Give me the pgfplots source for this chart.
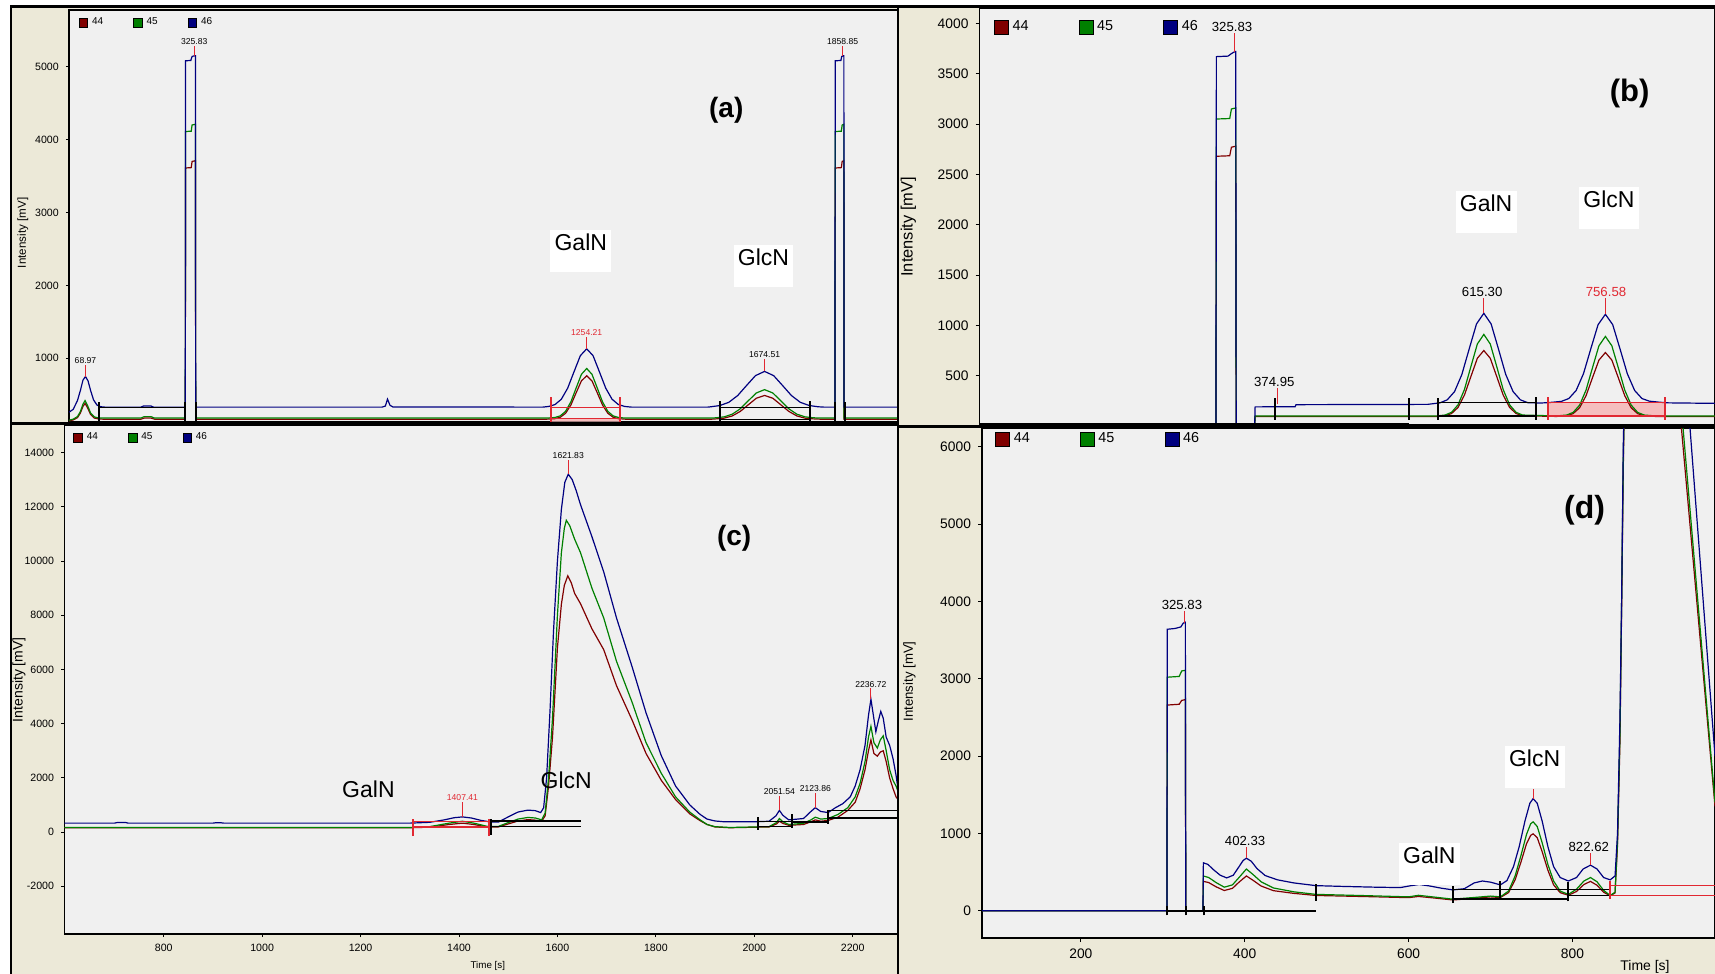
\documentclass[border=0pt]{standalone}
\usepackage{pgfplots}
\pgfplotsset{compat=1.18}
\usepackage{fontspec}
\setmainfont{Liberation Sans}
\definecolor{beige}{RGB}{236,233,216}
\definecolor{plotbg}{RGB}{240,240,240}
\definecolor{c44}{RGB}{128,0,0}
\definecolor{c45}{RGB}{0,128,0}
\definecolor{c46}{RGB}{0,0,128}
\definecolor{intred}{RGB}{225,40,50}
\definecolor{intfill}{RGB}{245,190,190}
\newcommand{\fs}[1]{\fontsize{#1}{#1}\selectfont}

\tikzset{
  pk/.style={font=\fs{4.3}, inner sep=0.5pt, anchor=south},
  pkb/.style={font=\fs{6.6}, inner sep=0.5pt, anchor=south},
  nm/.style={font=\fs{11.5}, inner sep=0pt},
  nmbox/.style={font=\fs{11.5}, fill=white, inner xsep=2.2pt, inner ysep=1.8pt, text depth=9pt, anchor=north},
  lab/.style={font=\bfseries\fs{14}, inner sep=0pt},
}
\pgfplotsset{
  chrom/.style={
    scale only axis, clip=true,
    axis background/.style={fill=plotbg},
    axis line style={black, line width=0.7pt},
    xtick pos=left, ytick pos=left,
    tick align=outside,
    every tick/.style={black, line width=0.4pt},
    /pgf/number format/assume math mode=true,
    /pgf/number format/set thousands separator={},
    scaled ticks=false,
    legend columns=3,
    legend cell align=left,
    every axis plot/.append style={line width=0.6pt},
  },
  smallp/.style={
    major tick length=1.6pt,
    tick label style={font=\fs{5.3}},
    legend style={draw=none, fill=none, inner sep=0pt, outer sep=0pt, anchor=west, font=\fs{5},
      /tikz/every even column/.append style={column sep=13pt}},
    legend image code/.code={\filldraw[##1, draw=black, line width=0.3pt] (0pt,-2.4pt) rectangle (4.4pt,2.4pt);},
    ylabel style={font=\fs{5.8}},
    xlabel style={font=\fs{4.9}},
  },
  bigp/.style={
    major tick length=2pt,
    tick label style={font=\fs{6.9}},
    legend style={draw=none, fill=none, inner sep=0pt, outer sep=0pt, anchor=west, font=\fs{7.2},
      /tikz/every even column/.append style={column sep=23pt}},
    legend image code/.code={\filldraw[##1, draw=black, line width=0.3pt] (0pt,-3.4pt) rectangle (7pt,3.4pt);},
    xlabel style={font=\fs{7}},
  },
  intk/.style={black, line width=1pt, forget plot},
  intl/.style={black, line width=0.6pt, forget plot},
  redk/.style={intred, line width=1pt, forget plot},
  redl/.style={intred, line width=0.6pt, forget plot},
  apex/.style={intred, line width=0.5pt, forget plot},
}

\begin{document}
\begin{tikzpicture}
\begin{scope}[x=0.5pt,y=-0.5pt]
\fill[white] (0,0) rectangle (1715,974);
\fill[beige] (11,7) rectangle (1715,974);
\end{scope}

% ---------------- (a)
\begin{axis}[chrom, smallp, at={(34.5pt,-211pt)}, anchor=south west,
  width=414.5pt, height=206pt, xmin=30, xmax=1990, ymin=126, ymax=5777,
  xtick=\empty, ytick={1000,2000,3000,4000,5000},
  ylabel={Intensity [mV]}, ylabel style={at={(axis description cs:-0.0555,0.459)}, anchor=center},
  legend style={at={(axis description cs:0.0116,0.969)}}]
\addplot[fill=intfill, draw=none, forget plot] coordinates {(1170,130)(1333,130)(1333,172)(1170,172)(1170,130)};
\addplot[c44] coordinates {(30,140)(40,155)(50,185)(57,250)(63,340)(68,380)(74,320)(81,230)(90,180)(100,168)(110,165)(200,165)(208,180)(224,180)(232,165)(305,165)(305.5,3610)(319,3615)(321,3700)(329,3710)(329.5,165)(1160,165)(1179,172)(1191.5,191)(1204,245)(1216.5,358)(1229,526)(1241.5,690)(1254,760)(1266.5,690)(1279,526)(1291.5,358)(1304,245)(1316.5,191)(1329,172)(1345,165)(1550,165)(1560,169)(1579,179)(1598,209)(1617,271)(1636,362)(1655,452)(1674.5,490)(1694,452)(1713,362)(1732,271)(1751,209)(1770,179)(1789,169)(1805,165)(1841,165)(1841.5,3610)(1856,3615)(1858,3700)(1862,3710)(1862.5,165)(1990,165)};
\addplot[c45] coordinates {(30,150)(40,165)(50,200)(57,270)(63,370)(68,420)(74,350)(81,250)(90,195)(100,182)(110,180)(200,180)(208,200)(224,200)(232,180)(305,180)(305.5,4110)(319,4115)(321,4200)(329,4210)(329.5,180)(1160,180)(1179,188)(1191.5,210)(1204,272)(1216.5,401)(1229,592)(1241.5,780)(1254,860)(1266.5,780)(1279,592)(1291.5,401)(1304,272)(1316.5,210)(1329,188)(1345,180)(1550,180)(1560,184)(1579,197)(1598,233)(1617,307)(1636,417)(1655,524)(1674.5,570)(1694,524)(1713,417)(1732,307)(1751,233)(1770,197)(1789,184)(1805,180)(1841,180)(1841.5,4110)(1856,4115)(1858,4200)(1862,4210)(1862.5,180)(1990,180)};
\addplot[c46] coordinates {(30,260)(40,300)(50,420)(57,560)(63,700)(69,750)(75,690)(81,560)(88,430)(96,360)(105,335)(115,330)(200,330)(206,345)(224,345)(230,330)(305,330)(305.5,5080)(318,5085)(321,5140)(327,5150)(329,5150)(329.5,330)(770,330)(778,345)(783,440)(789,355)(796,332)(1150,330)(1164,339)(1179,365)(1194,438)(1209,590)(1224,815)(1239,1036)(1254,1130)(1269,1036)(1284,815)(1299,590)(1314,438)(1329,365)(1344,339)(1360,330)(1540,330)(1548,335)(1569,352)(1590,396)(1611,489)(1632,627)(1653,762)(1674.5,820)(1696,762)(1717,627)(1738,489)(1759,396)(1780,352)(1801,335)(1815,330)(1841,330)(1841.5,5080)(1855,5085)(1857,5140)(1861,5150)(1862,5150)(1862.5,330)(1990,330)};
\legend{44,45,46}
\addplot[redk] coordinates {(1170,126)(1170,470)};
\addplot[redk] coordinates {(1333,126)(1333,470)};
\addplot[redl] coordinates {(1170,330)(1333,330)};
\addplot[redl] coordinates {(1170,172)(1333,172)};
\addplot[intl] coordinates {(100,330)(305,330)};
\addplot[intl] coordinates {(1570,330)(1781,330)};
\addplot[intl] coordinates {(1570,155)(1781,155)};
\addplot[intk] coordinates {(100,140)(100,400)};
\addplot[intk] coordinates {(305,130)(305,400)};
\addplot[intk] coordinates {(330,130)(330,400)};
\addplot[intk] coordinates {(1570,130)(1570,420)};
\addplot[intk] coordinates {(1781,130)(1781,420)};
\addplot[intk] coordinates {(1842,130)(1842,400)};
\addplot[intk] coordinates {(1865,130)(1865,400)};
\addplot[apex] coordinates {(69,750)(69,908)};
\addplot[apex] coordinates {(326,5150)(326,5288)};
\addplot[apex] coordinates {(1254,1130)(1254,1288)};
\addplot[apex] coordinates {(1674.5,820)(1674.5,986)};
\addplot[apex] coordinates {(1859,5150)(1859,5288)};
\node[pk] at (axis cs:69,908) {68.97};
\node[pk] at (axis cs:326,5288) {325.83};
\node[pk, text=intred] at (axis cs:1254,1288) {1254.21};
\node[pk] at (axis cs:1674.5,986) {1674.51};
\node[pk] at (axis cs:1859,5288) {1858.85};
\node[lab] at (axis cs:1584,4405) {(a)};
\node[nmbox] at (axis cs:1240,2759) {GalN};
\node[nmbox] at (axis cs:1672,2553) {GlcN};
\end{axis}

% ---------------- (b)
\begin{axis}[chrom, bigp, at={(489.75pt,-212.5pt)}, anchor=south west,
  width=367.75pt, height=208.5pt, xmin=29.2, xmax=884, ymin=10, ymax=4153,
  xtick=\empty, ytick={500,1000,...,4000},
  ylabel={Intensity [mV]}, ylabel style={font=\fs{8.2}, at={(axis description cs:-0.0967,0.475)}, anchor=center},
  legend style={at={(axis description cs:0.0197,0.954)}}]
\addplot[fill=intfill, draw=none, forget plot] coordinates {(690,100)(826,100)(826,235)(690,235)(690,100)};
\addplot[c44] coordinates {(29,0)(304,0)(304.5,2680)(320,2685)(322,2770)(327,2780)(327.5,0)(349,0)(349.5,95)(560,95)(570.3,102)(577.8,124)(585.3,184)(592.8,308)(600.3,492)(607.8,673)(615.3,750)(622.8,673)(630.3,492)(637.8,308)(645.3,184)(652.8,124)(660.3,102)(700,95)(711.6,102)(719.1,123)(726.6,181)(734.1,301)(741.6,480)(749.1,655)(756.6,730)(764.1,655)(771.6,480)(779.1,301)(786.6,181)(794.1,123)(801.6,102)(815,95)(884,95)};
\addplot[c45] coordinates {(29,0)(304,0)(304.5,3050)(320,3055)(322,3150)(327,3160)(327.5,0)(349,0)(349.5,100)(560,100)(570.3,109)(577.8,136)(585.3,210)(592.8,363)(600.3,591)(607.8,815)(615.3,910)(622.8,815)(630.3,591)(637.8,363)(645.3,210)(652.8,136)(660.3,109)(700,100)(711.6,109)(719.1,135)(726.6,207)(734.1,357)(741.6,579)(749.1,797)(756.6,890)(764.1,797)(771.6,579)(779.1,357)(786.6,207)(794.1,135)(801.6,109)(815,100)(884,100)};
\addplot[c46] coordinates {(29,0)(304,0)(304.5,3670)(318,3675)(322,3700)(326,3720)(327,3720)(327.5,0)(349,0)(349.5,190)(396,192)(397,212)(550,215)(564.3,230)(572.8,260)(581.3,342)(589.8,512)(598.3,766)(606.8,1014)(615.3,1120)(623.8,1014)(632.3,766)(640.8,512)(649.3,342)(657.8,260)(666.3,232)(680,228)(690,232)(705.6,245)(714.1,273)(722.6,353)(731.1,519)(739.6,766)(748.1,1007)(756.6,1110)(765.1,1007)(773.6,766)(782.1,519)(790.6,353)(799.1,273)(807.6,247)(820,236)(830,230)(884,225)};
\legend{44,45,46}
\addplot[black, line width=1.5pt, forget plot] coordinates {(29,14)(528,14)};
\addplot[intk] coordinates {(372.7,60)(372.7,276)};
\addplot[intk] coordinates {(528,61)(528,276)};
\addplot[intk] coordinates {(562.5,61)(562.5,276)};
\addplot[intk] coordinates {(676.5,61)(676.5,290)};
\addplot[intl] coordinates {(562.5,232)(676.5,232)};
\addplot[intl] coordinates {(562.5,100)(676.5,100)};
\addplot[redk] coordinates {(690,60)(690,290)};
\addplot[redk] coordinates {(826,60)(826,290)};
\addplot[redl] coordinates {(690,235)(826,235)};
\addplot[redl] coordinates {(690,100)(826,100)};
\addplot[apex] coordinates {(326,3720)(326,3905)};
\addplot[apex] coordinates {(375,215)(375,375)};
\addplot[apex] coordinates {(615.3,1120)(615.3,1268)};
\addplot[apex] coordinates {(756.6,1110)(756.6,1268)};
\node[pkb] at (axis cs:322.7,3905) {325.83};
\node[pkb] at (axis cs:371.8,375) {374.95};
\node[pkb] at (axis cs:613.4,1268) {615.30};
\node[pkb, text=intred] at (axis cs:757.3,1268) {756.58};
\node[lab, font=\bfseries\fs{15.5}] at (axis cs:784.8,3300) {(b)};
\node[nmbox] at (axis cs:618,2339) {GalN};
\node[nmbox] at (axis cs:760.7,2374) {GlcN};
\end{axis}

% ---------------- (c)
\begin{axis}[chrom, smallp, at={(32.15pt,-467pt)}, anchor=south west,
  width=416.85pt, height=254.35pt, xmin=598, xmax=2292, ymin=-3759, ymax=15003,
  xtick={800,1000,...,2200}, ytick={-2000,0,2000,...,14000},
  ylabel={Intensity [mV]}, ylabel style={font=\fs{7}, at={(axis description cs:-0.0543,0.5)}, anchor=center},
  xlabel={Time [s]}, xlabel style={at={(axis description cs:0.508,-0.063)}, anchor=center},
  legend style={at={(axis description cs:0.011,0.9756)}}]
\addplot[c44] coordinates {(598,160)(1300,160)(1340,180)(1380,280)(1407,330)(1430,280)(1460,180)(1480,190)(1500,300)(1520,410)(1540,460)(1555,440)(1568,400)(1575,600)(1582,1700)(1590,3500)(1600,6800)(1608,8400)(1614,9100)(1621,9450)(1628,9200)(1635,8800)(1647,8420)(1670,7500)(1694,6730)(1720,5400)(1752,4120)(1780,2900)(1811,1910)(1840,1200)(1869,670)(1890,420)(1904,280)(1920,190)(1950,160)(2030,190)(2045,300)(2051,400)(2058,320)(2070,250)(2100,280)(2115,380)(2124,450)(2135,400)(2150,430)(2170,550)(2190,800)(2205,1100)(2215,1600)(2225,2300)(2232,3000)(2237,3400)(2243,2900)(2250,2800)(2256,2950)(2262,3000)(2268,2600)(2275,2000)(2282,1600)(2288,1300)(2292,1200)};
\addplot[c45] coordinates {(598,170)(1300,170)(1340,200)(1380,330)(1407,400)(1430,330)(1460,200)(1480,210)(1500,350)(1520,480)(1540,540)(1555,520)(1568,450)(1575,700)(1582,2000)(1590,4200)(1600,8000)(1608,10300)(1614,11200)(1618,11500)(1625,11300)(1635,10800)(1647,10300)(1670,9000)(1694,7900)(1720,6300)(1752,4775)(1780,3300)(1811,2170)(1840,1300)(1869,735)(1890,450)(1904,280)(1920,200)(1950,170)(2030,200)(2045,350)(2051,500)(2058,380)(2070,280)(2100,320)(2115,450)(2124,550)(2135,480)(2150,500)(2170,650)(2190,900)(2205,1300)(2215,1800)(2225,2600)(2232,3500)(2237,3900)(2243,3300)(2250,3100)(2256,3400)(2262,3550)(2268,3000)(2275,2300)(2282,1900)(2288,1700)(2292,1500)};
\addplot[c46] coordinates {(598,330)(700,330)(706,355)(722,355)(728,330)(900,330)(906,345)(916,345)(922,330)(1300,330)(1340,360)(1370,450)(1390,530)(1407,560)(1425,520)(1445,430)(1465,370)(1480,370)(1500,560)(1520,740)(1540,810)(1555,790)(1566,720)(1572,900)(1578,2000)(1585,4500)(1592,7400)(1600,10000)(1608,11900)(1615,12900)(1622,13200)(1630,13000)(1638,12600)(1647,12070)(1670,10900)(1694,9600)(1720,7900)(1752,6080)(1780,4400)(1811,2820)(1840,1700)(1869,1000)(1890,650)(1904,480)(1920,410)(1939,380)(2000,380)(2030,400)(2044,600)(2051,800)(2058,620)(2070,450)(2100,500)(2115,760)(2124,900)(2135,760)(2150,720)(2165,900)(2180,1050)(2195,1300)(2205,1700)(2215,2300)(2225,3200)(2232,4300)(2237,4900)(2242,4300)(2247,3700)(2252,4100)(2257,4450)(2262,4200)(2268,3500)(2275,3200)(2282,2700)(2288,2100)(2292,1600)};
\legend{44,45,46}
\addplot[redk] coordinates {(1307,180)(1461,180)};
\addplot[redl] coordinates {(1307,380)(1461,380)};
\addplot[redk] coordinates {(1307,-150)(1307,500)};
\addplot[redk] coordinates {(1461,-150)(1461,500)};
\addplot[intl] coordinates {(1463,410)(1648,410)};
\addplot[intl] coordinates {(1463,215)(1648,215)};
\addplot[intk] coordinates {(1465,-100)(1465,500)};
\addplot[intl] coordinates {(2007,380)(2077,380)};
\addplot[intl] coordinates {(2007,200)(2077,200)};
\addplot[intk] coordinates {(2077,370)(2149,370)};
\addplot[intl] coordinates {(2149,800)(2292,800)};
\addplot[intk] coordinates {(2149,514)(2292,514)};
\addplot[intk] coordinates {(2007,84)(2007,540)};
\addplot[intk] coordinates {(2077,150)(2077,650)};
\addplot[intk] coordinates {(2149,300)(2149,800)};
\addplot[apex] coordinates {(1407,560)(1407,1127)};
\addplot[apex] coordinates {(1622,13200)(1622,13740)};
\addplot[apex] coordinates {(2051,800)(2051,1348)};
\addplot[apex] coordinates {(2124,900)(2124,1452)};
\addplot[apex] coordinates {(2237,4900)(2237,5296)};
\node[pk, text=intred] at (axis cs:1407,1127) {1407.41};
\node[pk] at (axis cs:1622,13740) {1621.83};
\node[pk] at (axis cs:2051,1348) {2051.54};
\node[pk] at (axis cs:2124,1452) {2123.86};
\node[pk] at (axis cs:2237,5296) {2236.72};
\node[lab] at (axis cs:1959,10834) {(c)};
\node[nm] at (axis cs:1216,1583) {GalN};
\node[nm] at (axis cs:1618,1908) {GlcN};
\end{axis}

% ---------------- (d)
\begin{axis}[chrom, bigp, at={(491pt,-469pt)}, anchor=south west,
  width=366.5pt, height=255pt, xmin=79.3, xmax=974, ymin=-352, ymax=6242,
  xtick={200,400,600,800}, ytick={0,1000,...,6000},
  ylabel={Intensity [mV]}, ylabel style={font=\fs{6.6}, at={(axis description cs:-0.0989,0.503)}, anchor=center},
  xlabel={Time [s]}, xlabel style={at={(axis description cs:0.9045,-0.057)}, anchor=center},
  legend style={at={(axis description cs:0.0181,0.9776)}}]
\addplot[c44] coordinates {(79,0)(305,0)(305.5,2660)(320,2670)(323,2720)(327.5,2730)(328,0)(349,0)(349.5,380)(356,365)(365,310)(375,262)(385,290)(393,370)(402,450)(410,395)(420,320)(435,260)(460,225)(487,198)(550,183)(600,170)(612,185)(625,172)(654,140)(680,160)(700,180)(712,172)(722,235)(730,400)(737,625)(744,870)(749,975)(752,995)(757,945)(763,765)(770,525)(777,335)(785,235)(795,200)(805,250)(814,340)(822,380)(830,330)(838,240)(846,195)(852,230)(855,850)(858,2200)(860,3900)(862,5700)(864,7000)(900,7000)(933,6240)(974,1350)};
\addplot[c45] coordinates {(79,0)(305,0)(305.5,3020)(320,3030)(323,3100)(327.5,3110)(328,0)(349,0)(349.5,450)(356,430)(365,365)(375,305)(385,335)(393,430)(402,540)(410,470)(420,375)(435,295)(460,245)(487,212)(550,195)(600,180)(612,200)(625,185)(654,150)(680,172)(700,190)(712,180)(722,255)(730,450)(737,710)(744,990)(749,1125)(752,1150)(757,1090)(763,880)(770,600)(777,385)(785,255)(795,212)(805,280)(814,385)(822,430)(830,375)(838,265)(846,198)(852,240)(855,900)(858,2300)(860,4000)(862,5800)(864,7000)(900,7000)(935,6240)(974,1400)};
\addplot[c46] coordinates {(79,0)(305,0)(305.5,3640)(315,3650)(322,3670)(325,3720)(327.5,3730)(328,0)(349,0)(349.5,620)(355,600)(362,530)(370,460)(378,425)(386,460)(393,570)(398,650)(402,680)(408,640)(415,545)(425,455)(440,400)(460,360)(487,325)(520,315)(560,305)(590,300)(603,325)(613,340)(625,322)(640,292)(654,270)(668,285)(680,360)(690,385)(700,370)(712,335)(720,390)(728,570)(735,830)(742,1160)(748,1390)(752,1450)(757,1390)(763,1160)(770,830)(777,570)(785,430)(795,385)(805,430)(813,540)(822,590)(830,540)(838,430)(846,400)(852,450)(855,1000)(858,2500)(860,4000)(862,6000)(864,7000)(900,7000)(943.5,6240)(974,2000)};
\legend{44,45,46}
\addplot[black, line width=1.2pt, forget plot] coordinates {(305,0)(487,0)};
\addplot[intk] coordinates {(305,-60)(305,60)};
\addplot[intk] coordinates {(328,-60)(328,60)};
\addplot[intk] coordinates {(350,-60)(350,60)};
\addplot[intk] coordinates {(487,130)(487,350)};
\addplot[black, line width=1.1pt, forget plot] coordinates {(654,150)(795,150)};
\addplot[intl] coordinates {(654,274)(847,274)};
\addplot[intl] coordinates {(795,196)(850,196)};
\addplot[intk] coordinates {(654,100)(654,320)};
\addplot[intk] coordinates {(712,150)(712,390)};
\addplot[intk] coordinates {(795,120)(795,370)};
\addplot[redl] coordinates {(846,332)(974,332)};
\addplot[redl] coordinates {(846,195)(974,195)};
\addplot[redk] coordinates {(846,150)(846,380)};
\addplot[apex] coordinates {(326,3720)(326,3875)};
\addplot[apex] coordinates {(402,680)(402,827)};
\addplot[apex] coordinates {(752,1450)(752,1580)};
\addplot[apex] coordinates {(822,590)(822,745)};
\node[pkb] at (axis cs:323.4,3875) {325.83};
\node[pkb] at (axis cs:400.5,827) {402.33};
\node[pkb] at (axis cs:819.9,745) {822.62};
\node[lab, font=\bfseries\fs{16}] at (axis cs:814.8,5177) {(d)};
\node[nmbox] at (axis cs:753.8,2138) {GlcN};
\node[nmbox] at (axis cs:625.3,882) {GalN};
\end{axis}

\begin{scope}[x=0.5pt,y=-0.5pt]
\draw[black, line width=1.5pt] (10,7) -- (1715,7);
\draw[black, line width=1pt] (11,7) -- (11,974);
\draw[black, line width=1.6pt] (11,423.7) -- (898,423.7);
\draw[black, line width=1.2pt] (898,426.5) -- (1715,426.5);
\draw[black, line width=1pt] (898,7) -- (898,974);
\end{scope}
\pgfresetboundingbox
\path[use as bounding box] (0pt,0pt) rectangle (857.5pt,-487pt);
\end{tikzpicture}
\end{document}
